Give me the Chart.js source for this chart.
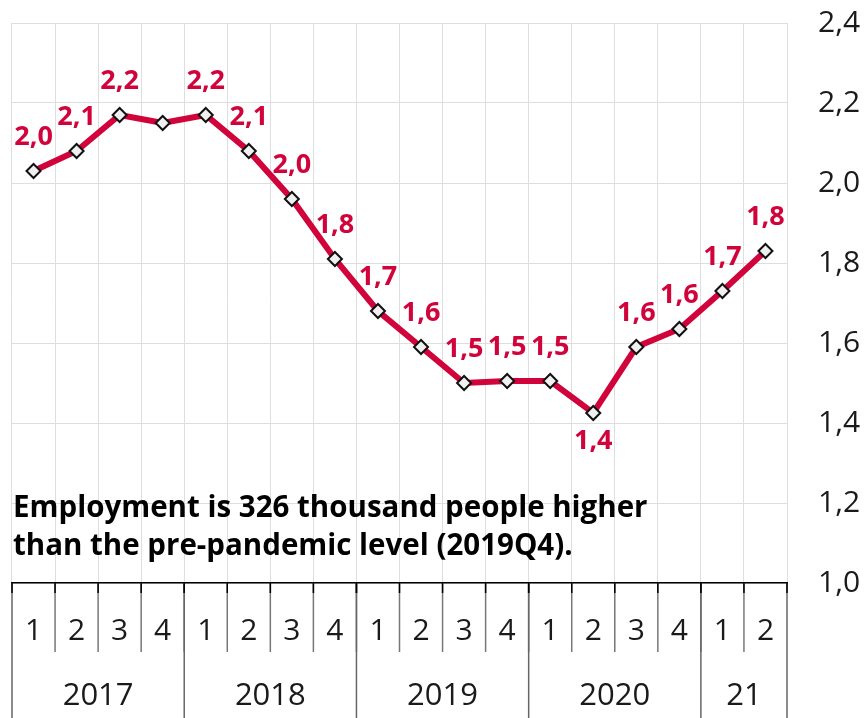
<!DOCTYPE html>
<html>
<head>
<meta charset="utf-8">
<script src="https://cdn.jsdelivr.net/npm/chart.js@4.4.1/dist/chart.umd.min.js"></script>
<style>
html, body { margin: 0; padding: 0; background: #fff; }
canvas { display: block; }
</style>
</head>
<body>
<canvas id="emp_chart" width="866" height="718"></canvas>
<script>
// Quarters 2017Q1 - 2021Q2
var quarters = ['1','2','3','4','1','2','3','4','1','2','3','4','1','2','3','4','1','2'];
var years = ['2017','2018','2019','2020','21'];
var year_len = [4, 4, 4, 4, 2];
var employment = [2.03, 2.08, 2.17, 2.15, 2.17, 2.08, 1.96, 1.81, 1.68, 1.59, 1.50, 1.505, 1.505, 1.425, 1.59, 1.635, 1.73, 1.83];
var point_labels = ['2,0','2,1','2,2',null,'2,2','2,1','2,0','1,8','1,7','1,6','1,5','1,5','1,5','1,4','1,6','1,6','1,7','1,8'];
var note_lines = ['Employment is 326 thousand people higher', 'than the pre-pandemic level (2019Q4).'];

const red = '#d1033b';
const font_family = '"Open Sans", "Noto Sans", sans-serif';

// value labels above (or under) the points
const point_label_plugin = {
    id: 'point_labels',
    afterDatasetsDraw(chart, args, opts) {
        const ctx = chart.ctx;
        const meta = chart.getDatasetMeta(0);
        ctx.save();
        ctx.font = 'bold 27px ' + font_family;
        ctx.fillStyle = red;
        ctx.textAlign = 'center';
        ctx.textBaseline = 'alphabetic';
        meta.data.forEach(function (pt, i) {
            let txt = point_labels[i];
            if (!txt) return;
            let below = opts.below.indexOf(i) >= 0;
            ctx.fillText(txt, pt.x, below ? pt.y + 36 : pt.y - 26);
        });
        ctx.restore();
    }
};

// note text inside the plot
const note_plugin = {
    id: 'note',
    afterDatasetsDraw(chart) {
        const ctx = chart.ctx, area = chart.chartArea;
        ctx.save();
        ctx.font = 'bold 29.5px ' + font_family;
        ctx.fillStyle = '#000';
        ctx.textAlign = 'left';
        ctx.textBaseline = 'alphabetic';
        ctx.fillText(note_lines[0], area.left + 1, area.bottom - 66);
        ctx.fillText(note_lines[1], area.left + 1, area.bottom - 28);
        ctx.restore();
    }
};

// quarter separators, year row
const year_axis_plugin = {
    id: 'year_axis',
    afterDraw(chart) {
        const ctx = chart.ctx, xs = chart.scales.x, area = chart.chartArea;
        const step = xs.getPixelForValue(1) - xs.getPixelForValue(0);
        const top = area.bottom, q_bottom = top + 69, bottom = chart.height;
        function vline(x, y0, y1, color) {
            ctx.strokeStyle = color;
            ctx.beginPath();
            ctx.moveTo(x, y0);
            ctx.lineTo(x, y1);
            ctx.stroke();
        }
        ctx.save();
        ctx.lineWidth = 1.5;
        for (let i = 1; i < quarters.length; i++) {
            let x = xs.getPixelForValue(i) - step / 2;
            vline(x, top, q_bottom, '#777');
            vline(x, top, top + 10, '#000');
        }
        ctx.font = '31px ' + font_family;
        ctx.fillStyle = '#1a1a1a';
        ctx.textAlign = 'center';
        ctx.textBaseline = 'middle';
        let start = 0;
        for (let j = 0; j < years.length; j++) {
            let x0 = xs.getPixelForValue(start) - step / 2;
            let x1 = xs.getPixelForValue(start + year_len[j] - 1) + step / 2;
            vline(x0, top, bottom, '#666');
            vline(x0, top, top + 10, '#000');
            if (j == years.length - 1) {
                vline(x1, top, bottom, '#666');
                vline(x1, top, top + 10, '#000');
            }
            ctx.fillText(years[j], (x0 + x1) / 2, top + 113);
            start += year_len[j];
        }
        ctx.restore();
    }
};

function no_padding(scale) {
    scale.paddingLeft = 0;
    scale.paddingRight = 0;
    scale.paddingTop = 0;
    scale.paddingBottom = 0;
}

var ctx_el = document.getElementById('emp_chart');
var emp_chart = new Chart(ctx_el, {
    type: 'line',
    data: {
        labels: quarters,
        datasets: [{
            data: employment,
            borderColor: red,
            borderWidth: 6,
            pointStyle: 'rectRot',
            pointRadius: 7,
            pointBorderWidth: 2,
            pointBackgroundColor: '#f0f0f0',
            pointBorderColor: '#111',
            tension: 0
        }]
    },
    options: {
        responsive: false,
        animation: false,
        layout: { padding: { left: 12, top: 23, right: 0, bottom: 0 } },
        plugins: {
            legend: { display: false },
            tooltip: { enabled: false },
            point_labels: { below: [13] }
        },
        scales: {
            x: {
                offset: true,
                grid: { offset: true, color: '#dedede', lineWidth: 1, drawTicks: false },
                border: { display: true, color: '#000', width: 1.5 },
                ticks: {
                    color: '#1a1a1a',
                    padding: 33,
                    maxRotation: 0,
                    autoSkip: false,
                    font: { family: font_family, size: 30, lineHeight: 1 }
                },
                afterFit: function (scale) { scale.height = 135; no_padding(scale); }
            },
            y: {
                position: 'right',
                min: 1.0,
                max: 2.4,
                grid: { color: '#dedede', lineWidth: 1, drawTicks: false },
                border: { display: false },
                ticks: {
                    stepSize: 0.2,
                    color: '#1a1a1a',
                    padding: 31,
                    font: { family: font_family, size: 30 },
                    callback: function (v) { return v.toFixed(1).replace('.', ','); }
                },
                afterFit: function (scale) { scale.width = 79; no_padding(scale); }
            }
        }
    },
    plugins: [note_plugin, point_label_plugin, year_axis_plugin]
});
</script>
</body>
</html>
